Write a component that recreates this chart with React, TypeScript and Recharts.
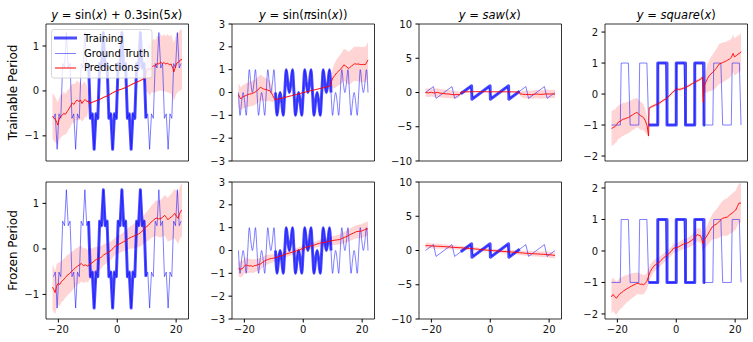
import React from "react";
import { ComposedChart, Line, Area, XAxis, YAxis, ReferenceArea } from "recharts";

// ground truth samples
const SIN_X0 = -21.677;
const SIN_DX = 0.62832;
const GT_SIN = [
  -0.61, -0.51, -1.3, -0.51, -0.61, 0.61, 0.51, 1.3, 0.51, 0.61,
  -0.61, -0.51, -1.3, -0.51, -0.61, 0.61, 0.51, 1.3, 0.51, 0.61,
  -0.61, -0.51, -1.3, -0.51, -0.61, 0.61, 0.51, 1.3, 0.51, 0.61,
  -0.61, -0.51, -1.3, -0.51, -0.61, 0.61, 0.51, 1.3, 0.51, 0.61,
  -0.61, -0.51, -1.3, -0.51, -0.61, 0.61, 0.51, 1.3, 0.51, 0.61,
  -0.61, -0.51, -1.3, -0.51, -0.61, 0.61, 0.51, 1.3, 0.51, 0.61,
  -0.61, -0.51, -1.3, -0.51, -0.61, 0.61, 0.51, 1.3, 0.51, 0.61,
];

const PISIN_X0 = -21.991;
const PISIN_DX = 0.5236;
const GT_PISIN = [
  0, -1, -0.41, 0, -0.41, -1, 0, 1, 0.41, 0, 0.41, 1,
  0, -1, -0.41, 0, -0.41, -1, 0, 1, 0.41, 0, 0.41, 1,
  0, -1, -0.41, 0, -0.41, -1, 0, 1, 0.41, 0, 0.41, 1,
  0, -1, -0.41, 0, -0.41, -1, 0, 1, 0.41, 0, 0.41, 1,
  0, -1, -0.41, 0, -0.41, -1, 0, 1, 0.41, 0, 0.41, 1,
  0, -1, -0.41, 0, -0.41, -1, 0, 1, 0.41, 0, 0.41, 1,
  0, -1, -0.41, 0, -0.41, -1, 0, 1, 0.41, 0, 0.41, 1,
  0,
];

const SAW_X = [-22, -19.3, -18.4, -13.0, -12.1, -6.7, -5.8, -0.45, 0.45, 5.8, 6.7, 12.1, 13.0, 18.4, 19.3, 22];
const SAW_Y = [0, 0.86, -0.86, 0.86, -0.86, 0.86, -0.86, 0.86, -0.86, 0.86, -0.86, 0.86, -0.86, 0.86, -0.86, 0];
const SAW_TRAIN_X = [-10, -6.33, -6.23, -0.05, 0.05, 6.23, 6.33, 10];
const SAW_TRAIN_Y = [-0.18, 0.98, -0.98, 0.98, -0.98, 0.98, -0.98, 0.18];

const SQ_X = [-22, -19.0, -18.7, -16.26, -15.66, -12.72, -12.42, -9.97, -9.37, -6.43, -6.13, -3.69, -3.09, -0.15, 0.15,
  2.59, 3.19, 6.13, 6.43, 8.87, 9.47, 12.42, 12.72, 15.16, 15.76, 18.7, 19.0, 21.44, 22];
const SQ_Y = [-1, -1, 1, 1, -1, -1, 1, 1, -1, -1, 1, 1, -1, -1, 1, 1, -1, -1, 1, 1, -1, -1, 1, 1, -1, -1, 1, 1, -1];
const SQ_TRAIN_X = [-9.42, -6.28, -6.28, -3.14, -3.14, 0, 0, 3.14, 3.14, 6.28, 6.28, 9.42, 9.42, 9.8];
const SQ_TRAIN_Y = [-1, -1, 1, 1, -1, -1, 1, 1, -1, -1, 1, 1, -1, -1];

const TRAIN_RANGE = [-9.8, 9.8];

// predictions: [x, mean, half width of the band]
const PRED_R1C1 = [
  [-22, -0.56, 0.5], [-21.5, -0.6, 0.52], [-21, -0.64, 0.5], [-20.5, -0.7, 0.48], [-20.2, -0.76, 0.5],
  [-19.8, -0.64, 0.47], [-19.3, -0.57, 0.49], [-18.8, -0.55, 0.46], [-18.2, -0.5, 0.48], [-17.6, -0.52, 0.45],
  [-17, -0.46, 0.47], [-16.4, -0.4, 0.44], [-15.8, -0.33, 0.46], [-15.3, -0.27, 0.43], [-14.7, -0.3, 0.45],
  [-14.1, -0.23, 0.42], [-13.6, -0.2, 0.44], [-13, -0.24, 0.41], [-12.5, -0.2, 0.43], [-12, -0.28, 0.4],
  [-11.4, -0.22, 0.42], [-10.9, -0.19, 0.39], [-10.3, -0.24, 0.35], [-9.8, -0.22, 0.2], [-9.5, -0.28, 0.03],
  [-8, -0.24, 0.02], [-6, -0.19, 0.02], [-4.5, -0.14, 0.02], [-3, -0.1, 0.02], [-1.5, -0.04, 0.02],
  [0, 0.01, 0.02], [1.5, 0.04, 0.02], [3, 0.08, 0.02], [4.5, 0.13, 0.02], [6, 0.18, 0.02],
  [7.5, 0.22, 0.02], [9, 0.27, 0.03], [9.6, 0.3, 0.15], [9.9, 0.44, 0.45], [10.5, 0.5, 0.55],
  [11.1, 0.47, 0.58], [11.7, 0.53, 0.56], [12.3, 0.56, 0.6], [12.9, 0.55, 0.58], [13.5, 0.61, 0.62],
  [14.1, 0.6, 0.6], [14.7, 0.64, 0.63], [15.3, 0.61, 0.61], [15.9, 0.63, 0.64], [16.5, 0.6, 0.62],
  [17.1, 0.62, 0.65], [17.7, 0.58, 0.63], [18.3, 0.6, 0.66], [18.9, 0.5, 0.64], [19.2, 0.42, 0.65],
  [19.6, 0.5, 0.66], [20.2, 0.62, 0.67], [20.8, 0.64, 0.65], [21.4, 0.69, 0.68], [22, 0.7, 0.66],
];
const PRED_R2C1 = [
  [-22, -0.84, 0.48], [-21.5, -0.9, 0.5], [-21.1, -0.96, 0.47], [-20.6, -0.82, 0.49], [-20.1, -0.76, 0.46],
  [-19.5, -0.78, 0.48], [-19, -0.72, 0.45], [-18.3, -0.68, 0.46], [-17.6, -0.63, 0.44], [-17, -0.58, 0.45],
  [-16.3, -0.55, 0.43], [-15.6, -0.5, 0.44], [-14.9, -0.46, 0.42], [-14.2, -0.41, 0.42], [-13.5, -0.38, 0.4],
  [-12.8, -0.35, 0.41], [-12.2, -0.32, 0.39], [-11.5, -0.37, 0.38], [-10.8, -0.35, 0.37], [-10, -0.38, 0.36],
  [-9.3, -0.33, 0.34], [-8.6, -0.31, 0.32], [-7.9, -0.27, 0.3], [-7.1, -0.23, 0.28], [-6.3, -0.22, 0.27],
  [-5.4, -0.18, 0.25], [-4.6, -0.13, 0.23], [-3.7, -0.1, 0.22], [-2.9, -0.07, 0.21], [-2, -0.03, 0.2],
  [-1.2, 0.03, 0.19], [-0.3, 0.08, 0.19], [0.5, 0.1, 0.2], [1.4, 0.13, 0.2], [2.2, 0.16, 0.21],
  [3.1, 0.19, 0.22], [3.9, 0.23, 0.24], [4.8, 0.26, 0.25], [5.6, 0.28, 0.27], [6.5, 0.31, 0.28],
  [7.3, 0.33, 0.29], [8.2, 0.37, 0.3], [9, 0.43, 0.31], [9.8, 0.48, 0.32], [10.6, 0.52, 0.34],
  [11.5, 0.59, 0.35], [12.3, 0.63, 0.37], [13.2, 0.68, 0.39], [14, 0.66, 0.4], [14.9, 0.67, 0.42],
  [15.5, 0.7, 0.43], [16.1, 0.74, 0.45], [16.7, 0.69, 0.46], [17.2, 0.64, 0.48], [17.8, 0.68, 0.5],
  [18.4, 0.7, 0.51], [19, 0.74, 0.53], [19.5, 0.78, 0.54], [20.1, 0.72, 0.55], [20.7, 0.67, 0.56],
  [21.2, 0.78, 0.57], [21.8, 0.85, 0.58], [22, 0.84, 0.58],
];
const PRED_R1C2 = [
  [-22, -0.1, 0.5], [-21.6, -0.2, 0.52], [-21.2, -0.28, 0.5], [-20.6, -0.2, 0.53], [-20.1, -0.17, 0.51],
  [-19.5, -0.13, 0.54], [-18.9, -0.1, 0.52], [-18.3, -0.07, 0.55], [-17.7, -0.06, 0.53], [-17.1, -0.03, 0.56],
  [-16.6, 0, 0.55], [-16, 0.05, 0.57], [-15.4, 0.12, 0.56], [-14.9, 0.17, 0.58], [-14.6, 0.23, 0.56],
  [-14.1, 0.2, 0.55], [-13.6, 0.16, 0.54], [-13.1, 0.14, 0.52], [-12.5, 0.13, 0.5], [-12, 0.1, 0.48],
  [-11.4, 0.08, 0.45], [-10.9, 0.0, 0.4], [-10.4, -0.12, 0.3], [-9.9, -0.24, 0.15], [-9.6, -0.32, 0.03],
  [-7, -0.24, 0.02], [-4, -0.14, 0.02], [-1, -0.04, 0.02], [2, 0.06, 0.02], [5, 0.15, 0.02],
  [8, 0.25, 0.02], [9.2, 0.29, 0.03], [9.6, 0.48, 0.2], [10, 0.63, 0.45], [10.7, 0.74, 0.55],
  [11.3, 0.85, 0.6], [12, 0.94, 0.63], [12.7, 1.02, 0.66], [13.3, 1.12, 0.68], [13.8, 1.21, 0.7],
  [14.3, 1.17, 0.71], [14.8, 1.12, 0.72], [15.3, 1.06, 0.72], [15.8, 1.09, 0.73], [16.4, 1.16, 0.73],
  [17, 1.22, 0.74], [17.5, 1.26, 0.75], [18.1, 1.24, 0.75], [18.7, 1.25, 0.76], [19.3, 1.23, 0.76],
  [19.9, 1.22, 0.77], [20.5, 1.23, 0.77], [21.1, 1.22, 0.78], [21.6, 1.33, 0.78], [22, 1.43, 0.78],
];
const PRED_R2C2 = [
  [-22, -0.8, 0.33], [-21.3, -0.82, 0.35], [-20.7, -0.8, 0.34], [-20.1, -0.7, 0.33], [-19.5, -0.63, 0.32],
  [-18.9, -0.66, 0.33], [-18.3, -0.68, 0.31], [-17.8, -0.66, 0.3], [-17.2, -0.7, 0.3], [-16.6, -0.66, 0.29],
  [-16.1, -0.66, 0.28], [-15.5, -0.62, 0.27], [-14.9, -0.6, 0.26], [-14.4, -0.58, 0.25], [-13.8, -0.52, 0.24],
  [-13.2, -0.47, 0.23], [-12.6, -0.42, 0.22], [-12.1, -0.4, 0.21], [-11.5, -0.37, 0.2], [-10.9, -0.35, 0.19],
  [-10.3, -0.34, 0.18], [-9.8, -0.32, 0.17], [-9, -0.3, 0.16], [-8.1, -0.26, 0.15], [-7, -0.21, 0.14],
  [-5.8, -0.15, 0.13], [-4.7, -0.11, 0.13], [-3.6, -0.07, 0.12], [-2.4, -0.02, 0.12], [-1.3, 0.03, 0.12],
  [-0.1, 0.09, 0.12], [1, 0.15, 0.12], [2.1, 0.18, 0.13], [3.3, 0.22, 0.13], [4.4, 0.27, 0.14],
  [5.6, 0.32, 0.15], [6.7, 0.35, 0.16], [7.8, 0.37, 0.17], [9, 0.41, 0.18], [10.1, 0.44, 0.2],
  [11.2, 0.46, 0.21], [12.4, 0.48, 0.22], [13.2, 0.53, 0.24], [14.1, 0.58, 0.25], [15, 0.63, 0.26],
  [15.8, 0.69, 0.27], [17, 0.76, 0.28], [18.1, 0.83, 0.29], [19, 0.84, 0.3], [19.8, 0.85, 0.3],
  [20.7, 0.9, 0.31], [21.5, 0.95, 0.31], [22, 0.94, 0.31],
];
const PRED_R1C3 = [
  [-22, 0.0, 0.6], [-21, -0.05, 0.62], [-20, 0.03, 0.6], [-19, -0.08, 0.61], [-18, 0.02, 0.6],
  [-17, -0.1, 0.62], [-16, -0.15, 0.6], [-15, -0.2, 0.61], [-14, -0.22, 0.6], [-13, -0.3, 0.58],
  [-12, -0.32, 0.55], [-11, -0.3, 0.5], [-10.3, -0.3, 0.3], [-9.9, 0.08, 0.05], [-5, 0.12, 0.04],
  [0, 0.1, 0.04], [5, 0.1, 0.04], [9.7, 0.08, 0.05], [10.1, -0.2, 0.3], [11, -0.25, 0.5],
  [12, -0.3, 0.56], [13, -0.28, 0.58], [14, -0.33, 0.6], [15, -0.25, 0.61], [16, -0.22, 0.6],
  [17, -0.28, 0.62], [18, -0.25, 0.61], [19, -0.2, 0.62], [20, -0.23, 0.6], [21, -0.2, 0.61],
  [22, -0.25, 0.6],
];
const PRED_R2C3 = [
  [-22, 0.7, 0.38], [-21, 0.72, 0.4], [-20, 0.66, 0.38], [-19, 0.64, 0.37], [-18, 0.62, 0.36],
  [-17, 0.6, 0.35], [-16, 0.58, 0.34], [-15, 0.54, 0.33], [-14, 0.52, 0.32], [-13, 0.47, 0.31],
  [-12, 0.45, 0.3], [-11, 0.42, 0.29], [-10, 0.4, 0.28], [-9, 0.36, 0.27], [-8, 0.33, 0.26],
  [-7, 0.3, 0.25], [-6, 0.26, 0.25], [-5, 0.22, 0.24], [-4, 0.18, 0.24], [-3, 0.13, 0.24],
  [-2, 0.09, 0.24], [-1, 0.05, 0.24], [0, 0.02, 0.25], [1, -0.02, 0.25], [2, -0.05, 0.26],
  [3, -0.08, 0.26], [4, -0.12, 0.27], [5, -0.15, 0.28], [6, -0.18, 0.29], [7, -0.22, 0.3],
  [8, -0.25, 0.31], [9, -0.28, 0.32], [10, -0.32, 0.33], [11, -0.36, 0.34], [12, -0.4, 0.35],
  [13, -0.42, 0.36], [14, -0.46, 0.37], [15, -0.48, 0.38], [16, -0.5, 0.39], [17, -0.53, 0.4],
  [18, -0.56, 0.41], [19, -0.58, 0.42], [20, -0.62, 0.43], [21, -0.66, 0.44], [22, -0.72, 0.45],
];
const PRED_R1C4 = [
  [-22, -1.11, 0.55], [-21.4, -1.08, 0.57], [-20.8, -1.05, 0.54], [-20.2, -0.98, 0.56], [-19.7, -0.91, 0.53],
  [-19.1, -0.88, 0.55], [-18.5, -0.84, 0.52], [-18, -0.81, 0.54], [-17.4, -0.8, 0.51], [-16.8, -0.77, 0.52],
  [-16.2, -0.76, 0.5], [-15.6, -0.72, 0.51], [-15, -0.68, 0.49], [-14.5, -0.65, 0.5], [-13.9, -0.62, 0.48],
  [-13.4, -0.59, 0.47], [-12.8, -0.64, 0.46], [-12.2, -0.7, 0.45], [-11.7, -0.72, 0.44], [-11.1, -0.76, 0.42],
  [-10.5, -0.86, 0.38], [-9.9, -1.02, 0.3], [-9.4, -1.35, 0.1], [-9.2, -0.45, 0.05], [-8.2, -0.4, 0.05],
  [-7.1, -0.35, 0.05], [-5.9, -0.3, 0.05], [-4.7, -0.22, 0.05], [-3.6, -0.16, 0.05], [-2.4, -0.06, 0.05],
  [-1.3, 0.05, 0.05], [0, 0.16, 0.05], [1, 0.15, 0.05], [2, 0.17, 0.05], [3.2, 0.22, 0.05],
  [4.3, 0.27, 0.05], [5.5, 0.34, 0.05], [6.6, 0.4, 0.05], [7.5, 0.44, 0.05], [8.3, 0.48, 0.05],
  [8.9, 0.55, 0.06], [9.2, -0.27, 0.1], [9.5, 0.25, 0.2], [10.1, 0.4, 0.35], [10.6, 0.5, 0.45],
  [11.2, 0.59, 0.5], [11.8, 0.65, 0.55], [12.4, 0.7, 0.58], [12.9, 0.75, 0.6], [13.5, 0.82, 0.62],
  [14.1, 0.9, 0.63], [14.6, 0.97, 0.65], [15.2, 0.99, 0.65], [15.8, 1.02, 0.64], [16.4, 1.04, 0.63],
  [17, 1.07, 0.62], [17.5, 1.1, 0.62], [18.1, 1.13, 0.61], [18.7, 1.18, 0.6], [19.3, 1.31, 0.6],
  [19.8, 1.2, 0.6], [20.4, 1.24, 0.61], [21, 1.29, 0.6], [21.5, 1.31, 0.6], [22, 1.37, 0.6],
];
const PRED_R2C4 = [
  [-22, -1.46, 0.53], [-21.7, -1.4, 0.55], [-21.4, -1.38, 0.52], [-20.9, -1.45, 0.54], [-20.3, -1.5, 0.52],
  [-19.7, -1.42, 0.51], [-19.1, -1.35, 0.5], [-18.5, -1.32, 0.49], [-17.9, -1.27, 0.47], [-17.4, -1.24, 0.46],
  [-16.8, -1.2, 0.44], [-16.2, -1.17, 0.43], [-15.7, -1.14, 0.41], [-15.1, -1.11, 0.4], [-14.5, -1.08, 0.38],
  [-13.9, -1.06, 0.37], [-13.4, -1.03, 0.35], [-12.8, -1.03, 0.34], [-12.2, -1.06, 0.33], [-11.6, -1.05, 0.32],
  [-11.1, -1.08, 0.3], [-10.5, -1.02, 0.28], [-10, -0.97, 0.26], [-9.4, -0.8, 0.24], [-8.8, -0.65, 0.22],
  [-8.2, -0.56, 0.2], [-7.7, -0.49, 0.19], [-6.9, -0.43, 0.18], [-6, -0.38, 0.17], [-5.2, -0.3, 0.16],
  [-4.3, -0.22, 0.15], [-3.5, -0.16, 0.15], [-2.6, -0.09, 0.15], [-1.7, -0.01, 0.14], [-0.9, 0.09, 0.14],
  [0, 0.1, 0.14], [0.8, 0.13, 0.15], [1.7, 0.18, 0.15], [2.5, 0.22, 0.16], [3.4, 0.24, 0.16],
  [4.2, 0.27, 0.17], [5.1, 0.33, 0.18], [5.9, 0.38, 0.19], [6.5, 0.45, 0.2], [7.1, 0.52, 0.21],
  [7.7, 0.5, 0.22], [8.2, 0.49, 0.23], [8.6, 0.4, 0.24], [9, 0.24, 0.25], [9.5, 0.35, 0.27],
  [10, 0.42, 0.3], [10.5, 0.49, 0.32], [11.3, 0.62, 0.36], [12.2, 0.76, 0.4], [13, 0.82, 0.44],
  [13.9, 0.87, 0.48], [14.7, 0.95, 0.52], [15.6, 1.03, 0.55], [16.5, 1.06, 0.58], [17.4, 1.08, 0.6],
  [18.2, 1.15, 0.61], [19.1, 1.21, 0.62], [19.7, 1.26, 0.62], [20.2, 1.3, 0.62], [20.8, 1.42, 0.63],
  [21.3, 1.52, 0.63], [22, 1.52, 0.62],
];

const X_DOMAIN = [-24.2, 24.2];
const X_TICKS = [-20, 0, 20];

const COL_LEFT = [45.5, 232, 418.5, 605];
const ROW_TOP = [24, 182];
const BOX_W = 142.5;
const BOX_H = 137;

const FONT = "'DejaVu Sans', sans-serif";
const fmt = (v: number) => (v < 0 ? `\u2212${-v}` : `${v}`);

const onGrid = (x0: number, dx: number, ys: number[]) => ys.map((y, i) => ({ x: x0 + i * dx, y }));
const zipXY = (xs: number[], ys: number[]) => xs.map((x, i) => ({ x, y: ys[i] }));
const inTrain = (pts: { x: number; y: number }[]) =>
  pts.filter((p) => p.x >= TRAIN_RANGE[0] && p.x <= TRAIN_RANGE[1]);

const sinGT = onGrid(SIN_X0, SIN_DX, GT_SIN);
const pisinGT = onGrid(PISIN_X0, PISIN_DX, GT_PISIN);
const sawGT = zipXY(SAW_X, SAW_Y);
const sqGT = zipXY(SQ_X, SQ_Y);

const COLS = [
  { gt: sinGT, train: inTrain(sinGT), curve: "linear", yTicks: [-1, 0, 1] },
  { gt: pisinGT, train: inTrain(pisinGT), curve: "monotone", yTicks: [-3, -2, -1, 0, 1, 2, 3] },
  { gt: sawGT, train: zipXY(SAW_TRAIN_X, SAW_TRAIN_Y), curve: "linear", yTicks: [-10, -5, 0, 5, 10] },
  { gt: sqGT, train: zipXY(SQ_TRAIN_X, SQ_TRAIN_Y), curve: "linear", yTicks: [-2, -1, 0, 1, 2] },
];

const Y_DOMAINS = [
  [[-1.56, 1.49], [-3, 3], [-10, 10], [-2.16, 2.26]],
  [[-1.54, 1.47], [-3, 3], [-10, 10], [-2.16, 2.19]],
];

const PREDS = [
  [PRED_R1C1, PRED_R1C2, PRED_R1C3, PRED_R1C4],
  [PRED_R2C1, PRED_R2C2, PRED_R2C3, PRED_R2C4],
];

function Panel({ row, col }: { row: number; col: number }) {
  const PADL = 45;
  const PADT = 5;
  const PADB = 22;
  const PADR = 5;
  const c = COLS[col];
  const yDomain = Y_DOMAINS[row][col];
  const pred = PREDS[row][col];
  const line = pred.map(([x, y]) => ({ x, y }));
  const band = pred.map(([x, y, s]) => ({ x, r: [y - s, y + s] }));
  const axisTick = { fontSize: 10, fill: "#111", fontFamily: FONT };

  return (
    <div style={{ position: "absolute", left: COL_LEFT[col] - PADL, top: ROW_TOP[row] - PADT }}>
      <ComposedChart
        width={BOX_W + PADL + PADR}
        height={BOX_H + PADT + PADB}
        margin={{ top: PADT, right: PADR, bottom: 0, left: 0 }}
      >
        <XAxis
          type="number"
          dataKey="x"
          domain={X_DOMAIN}
          ticks={X_TICKS}
          allowDataOverflow
          height={PADB}
          axisLine={false}
          stroke="#000"
          tickSize={3.5}
          tickMargin={3.5}
          tick={row === 1 ? axisTick : false}
          tickFormatter={fmt}
        />
        <YAxis
          type="number"
          domain={yDomain}
          ticks={c.yTicks}
          allowDataOverflow
          width={PADL}
          axisLine={false}
          stroke="#000"
          tickSize={3.5}
          tickMargin={3.5}
          tick={axisTick}
          tickFormatter={fmt}
        />
        <Area
          data={band}
          dataKey="r"
          type="linear"
          stroke="none"
          fill="#ff0000"
          fillOpacity={0.17}
          isAnimationActive={false}
          activeDot={false}
        />
        <Line
          data={c.gt}
          dataKey="y"
          type={c.curve as any}
          stroke="#0000ff"
          strokeOpacity={0.5}
          strokeWidth={1}
          dot={false}
          activeDot={false}
          isAnimationActive={false}
        />
        <Line
          data={c.train}
          dataKey="y"
          type={c.curve as any}
          stroke="#0000ff"
          strokeOpacity={0.7}
          strokeWidth={3}
          strokeLinejoin="round"
          dot={false}
          activeDot={false}
          isAnimationActive={false}
        />
        <Line
          data={line}
          dataKey="y"
          type="linear"
          stroke="#ff0000"
          strokeWidth={0.9}
          dot={false}
          activeDot={false}
          isAnimationActive={false}
        />
        <ReferenceArea
          x1={X_DOMAIN[0]}
          x2={X_DOMAIN[1]}
          y1={yDomain[0]}
          y2={yDomain[1]}
          fill="none"
          fillOpacity={0}
          stroke="#000"
          strokeWidth={0.8}
          ifOverflow="visible"
        />
      </ComposedChart>
    </div>
  );
}

const it = (s: string) => <tspan fontStyle="italic">{s}</tspan>;

export default function App() {
  const cx = COL_LEFT.map((l) => l + BOX_W / 2);
  return (
    <div style={{ position: "absolute", left: 0, top: 0, width: 753, height: 342, background: "#fff", fontFamily: FONT }}>
      {[0, 1].map((r) => [0, 1, 2, 3].map((c) => <Panel key={`${r}-${c}`} row={r} col={c} />))}
      <svg width={753} height={342} style={{ position: "absolute", left: 0, top: 0, pointerEvents: "none" }}>
        <g fontFamily={FONT} fontSize={11.5} fill="#000" textAnchor="middle">
          <text x={cx[0]} y={18.5}>
            {it("y")}{" = sin("}{it("x")}{") + 0.3sin(5"}{it("x")}{")"}
          </text>
          <text x={cx[1]} y={18.5}>
            {it("y")}{" = sin("}{it("π")}{"sin("}{it("x")}{"))"}
          </text>
          <text x={cx[2]} y={18.5}>
            {it("y")}{" = "}{it("saw")}{"("}{it("x")}{")"}
          </text>
          <text x={cx[3]} y={18.5}>
            {it("y")}{" = "}{it("square")}{"("}{it("x")}{")"}
          </text>
          <text x={16.5} y={92.5} fontSize={12} transform="rotate(-90 16.5 92.5)">Trainable Period</text>
          <text x={16.5} y={250.5} fontSize={12} transform="rotate(-90 16.5 250.5)">Frozen Period</text>
        </g>
        <g fontFamily={FONT} fontSize={10} fill="#000">
          <rect x={51.5} y={29.5} width={100.5} height={48.5} rx={2.5} fill="#fff" fillOpacity={0.8} stroke="#cccccc" strokeWidth={0.8} />
          <line x1={55.5} x2={75.5} y1={38} y2={38} stroke="#0000ff" strokeOpacity={0.7} strokeWidth={3} strokeLinecap="square" />
          <line x1={55.5} x2={75.5} y1={53.5} y2={53.5} stroke="#0000ff" strokeOpacity={0.5} strokeWidth={1} strokeLinecap="square" />
          <line x1={55.5} x2={75.5} y1={68} y2={68} stroke="#ff0000" strokeWidth={1} strokeLinecap="square" />
          <text x={84} y={41.5}>Training</text>
          <text x={84} y={56.5}>Ground Truth</text>
          <text x={84} y={71}>Predictions</text>
        </g>
      </svg>
    </div>
  );
}
